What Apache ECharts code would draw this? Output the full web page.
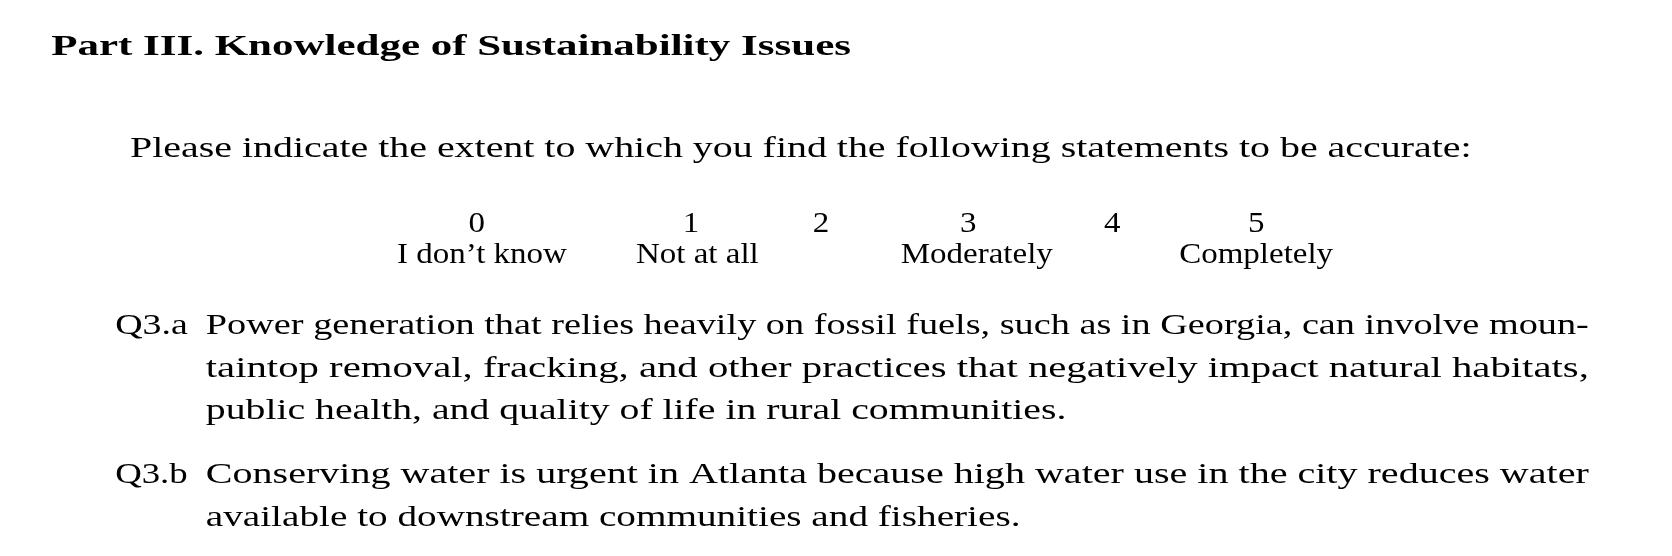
<!DOCTYPE html>
<html>
<head>
<meta charset="utf-8">
<script src="https://cdn.jsdelivr.net/npm/echarts@6/dist/echarts.min.js"></script>
<style>html,body{margin:0;padding:0;background:#fff}#main{width:1672px;height:556px}</style>
</head>
<body>
<div id="main"></div>
<script>
var titleText = 'Part III. Knowledge of Sustainability Issues';
var promptText = 'Please indicate the extent to which you find the following statements to be accurate:';
var scaleNumbers = ['0', '1', '2', '3', '4', '5'];
var scaleLabels = ['I don\u2019t know', 'Not at all', '', 'Moderately', '', 'Completely'];
var questionIds = ['Q3.a', 'Q3.b'];
var questionLines = [
    ['Power generation that relies heavily on fossil fuels, such as in Georgia, can involve moun-',
     'taintop removal, fracking, and other practices that negatively impact natural habitats,',
     'public health, and quality of life in rural communities.'],
    ['Conserving water is urgent in Atlanta because high water use in the city reduces water',
     'available to downstream communities and fisheries.']
];

var myChart = echarts.init(document.getElementById('main'));
var serif = '"Liberation Serif", "DejaVu Serif", serif';
var bodyFont = '30px ' + serif;
var k = 1672 / 1568;
var ctx = document.createElement('canvas').getContext('2d');

// stretch a line horizontally so it spans the target width
function fitLine(text, x, y, width, font, align) {
    ctx.font = font;
    var w = ctx.measureText(text).width;
    var s = width ? (width * k) / w : 1.1;
    return {
        type: 'text', x: x * k, y: y * k, scaleX: s,
        style: { text: text, font: font, fill: '#000', textAlign: align || 'left', textVerticalAlign: 'middle' }
    };
}

var elements = [];
elements.push(fitLine(titleText, 48, 44, 750, 'bold 30px ' + serif));
elements.push(fitLine(promptText, 122, 140, 1258, bodyFont));

var numX = [447, 648, 770, 908, 1043, 1178];
var labX = [452, 654, 770, 916, 1043, 1178];
scaleNumbers.forEach(function (n, i) {
    elements.push(fitLine(n, numX[i], 210, null, bodyFont, 'center'));
    if (scaleLabels[i]) elements.push(fitLine(scaleLabels[i], labX[i], 239, null, bodyFont, 'center'));
});

var qY = [306, 446];
var lastWidths = [807, 764];
questionIds.forEach(function (id, q) {
    elements.push(fitLine(id, 108, qY[q], 68, bodyFont));
    questionLines[q].forEach(function (line, j) {
        var last = j === questionLines[q].length - 1;
        elements.push(fitLine(line, 193, qY[q] + j * 40, last ? lastWidths[q] : 1297, bodyFont));
    });
});

var option = {
    backgroundColor: '#fff',
    graphic: { elements: elements }
};
myChart.setOption(option);
</script>
</body>
</html>
